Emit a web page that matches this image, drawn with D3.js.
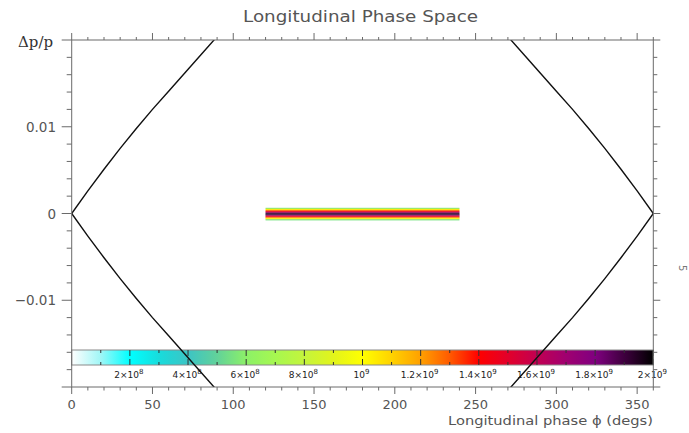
<!DOCTYPE html>
<html>
<head>
<meta charset="utf-8">
<script src="https://cdn.jsdelivr.net/npm/d3@7"></script>
<style>
  body { margin: 0; background: #fff; }
  svg { display: block; }
</style>
</head>
<body>
<svg id="chart" width="689" height="433"></svg>
<script>
// ---- data ----
const phaseTicks = [0, 50, 100, 150, 200, 250, 300, 350];
const dpTicks = [-0.01, 0, 0.01];
const dpTickLabels = ["\u22120.01", "0", "0.01"];

// separatrix branch (phase in degrees, dp/p), mirrored into four arms
const sepPhase = [0, 10, 20, 30, 40, 50, 60, 70, 80, 90];
const sepDp = [0, 0.0026, 0.0051, 0.0075, 0.0098, 0.0120, 0.0141, 0.0162, 0.0183, 0.0204];

// beam: uniform in phase between these limits, banded in dp/p
const beamPhase = [120, 240];
const beamDp = [0.00066, 0.00055, 0.00044, 0.00033, 0.00022, 0.00011, 0,
                -0.00011, -0.00022, -0.00033, -0.00044, -0.00055, -0.00066];
const beamDensity = [5.5e8, 1.0e9, 1.2e9, 1.4e9, 1.6e9, 1.85e9, 2.0e9,
                     1.85e9, 1.6e9, 1.4e9, 1.2e9, 1.0e9, 5.5e8];

// colour table
const cbStops = [0, 1e8, 2e8, 3e8, 4e8, 5e8, 6e8, 7e8, 8e8, 9e8, 1e9,
                 1.1e9, 1.2e9, 1.3e9, 1.4e9, 1.5e9, 1.6e9, 1.7e9, 1.8e9, 1.9e9, 2e9];
const cbColors = ["#ffffff", "#9ff6f6", "#00ffff", "#18dcdc", "#3cc4c4", "#62d29a",
                  "#8cf068", "#a6f850", "#c4f43c", "#e2f41c", "#ffff00",
                  "#ffd200", "#ffa000", "#ff5a00", "#ff0000", "#e2002a",
                  "#c20052", "#a00070", "#800080", "#3e003e", "#000000"];
const cbTicks = [2e8, 4e8, 6e8, 8e8, 1e9, 1.2e9, 1.4e9, 1.6e9, 1.8e9, 2e9];
const cbMinorTicks = [1e8, 3e8, 5e8, 7e8, 9e8, 1.1e9, 1.3e9, 1.5e9, 1.7e9, 1.9e9];
const cbMantissa = ["2\u00d7", "4\u00d7", "6\u00d7", "8\u00d7", "", "1.2\u00d7", "1.4\u00d7", "1.6\u00d7", "1.8\u00d7", "2\u00d7"];
const cbExponent = ["8", "8", "8", "8", "9", "9", "9", "9", "9", "9"];

// ---- layout ----
const svg = d3.select("#chart");
const plotL = 71.7, plotR = 653.3, plotT = 40, plotB = 387;
const axisColor = "#6a6a6a";
const textColor = "#555";

const x = d3.scaleLinear().domain([0, 360]).range([plotL, plotR]);
const y = d3.scaleLinear().domain([-0.02, 0.02]).range([plotB, plotT]);
const color = d3.scaleLinear().domain(cbStops).range(cbColors).interpolate(d3.interpolateRgb);
const cbX = d3.scaleLinear().domain([0, 2e9]).range([plotL, plotR]);
const cbTop = 350, cbBottom = 365;

const defs = svg.append("defs");
defs.append("clipPath").attr("id", "plotClip")
  .append("rect").attr("x", plotL).attr("y", plotT)
  .attr("width", plotR - plotL).attr("height", plotB - plotT);

// beam density bands
const band = Math.abs(y(beamDp[0]) - y(beamDp[1]));
svg.append("g").selectAll("rect").data(beamDp).join("rect")
  .attr("x", x(beamPhase[0]))
  .attr("width", x(beamPhase[1]) - x(beamPhase[0]))
  .attr("y", d => y(d) - band / 2 + 0.5)
  .attr("height", band + 0.2)
  .attr("fill", (d, i) => color(beamDensity[i]));

// colour bar
const grad = defs.append("linearGradient").attr("id", "cbGrad")
  .attr("x1", "0%").attr("x2", "100%").attr("y1", "0%").attr("y2", "0%");
d3.range(0, 101).forEach(p => {
  grad.append("stop").attr("offset", p + "%").attr("stop-color", color(p / 100 * 2e9));
});
svg.append("rect").attr("x", cbX(0)).attr("y", cbTop)
  .attr("width", cbX(2e9) - cbX(0)).attr("height", cbBottom - cbTop)
  .attr("fill", "url(#cbGrad)").attr("stroke", "#8a8a8a").attr("stroke-width", 1);

const cbTickG = svg.append("g").attr("stroke", "#333").attr("stroke-width", 1);
cbTicks.forEach(v => {
  cbTickG.append("line").attr("x1", cbX(v)).attr("x2", cbX(v)).attr("y1", cbTop).attr("y2", cbTop + 6);
  cbTickG.append("line").attr("x1", cbX(v)).attr("x2", cbX(v)).attr("y1", cbBottom - 6).attr("y2", cbBottom);
});
cbMinorTicks.forEach(v => {
  cbTickG.append("line").attr("x1", cbX(v)).attr("x2", cbX(v)).attr("y1", cbTop).attr("y2", cbTop + 3);
  cbTickG.append("line").attr("x1", cbX(v)).attr("x2", cbX(v)).attr("y1", cbBottom - 3).attr("y2", cbBottom);
});
const cbLab = svg.append("g").attr("font-family", "DejaVu Sans, sans-serif")
  .attr("font-size", 9).attr("fill", "#222").attr("text-anchor", "middle");
cbTicks.forEach((v, i) => {
  const t = cbLab.append("text").attr("x", cbX(v) - 1).attr("y", 378);
  t.append("tspan").text(cbMantissa[i] + "10");
  t.append("tspan").attr("dy", -4).attr("font-size", 7).text(cbExponent[i]);
});

// separatrix arms
const line = d3.line().x(d => x(d[0])).y(d => y(d[1]));
const arms = [
  sepPhase.map((p, i) => [p, sepDp[i]]),
  sepPhase.map((p, i) => [p, -sepDp[i]]),
  sepPhase.map((p, i) => [360 - p, sepDp[i]]),
  sepPhase.map((p, i) => [360 - p, -sepDp[i]])
];
svg.append("g").attr("clip-path", "url(#plotClip)").selectAll("path").data(arms).join("path")
  .attr("d", line).attr("fill", "none").attr("stroke", "#111").attr("stroke-width", 1.4);

// axes frame and ticks
const axG = svg.append("g").attr("stroke", axisColor).attr("stroke-width", 1);
axG.append("rect").attr("x", plotL).attr("y", plotT).attr("width", plotR - plotL)
  .attr("height", plotB - plotT).attr("fill", "none");

const phaseMinor = d3.range(0, 361, 10);
phaseMinor.forEach(p => {
  const major = p % 50 === 0;
  axG.append("line").attr("x1", x(p)).attr("x2", x(p)).attr("y1", plotT).attr("y2", plotT - (major ? 7 : 3));
  axG.append("line").attr("x1", x(p)).attr("x2", x(p)).attr("y1", plotB).attr("y2", plotB + (major ? 7 : 3.5));
});
const dpMinor = d3.range(-10, 11).map(k => k * 0.002);
dpMinor.forEach(v => {
  const major = Math.abs(Math.round(v * 1000)) % 10 === 0;
  axG.append("line").attr("x1", plotL).attr("x2", plotL - (major ? 10 : 5)).attr("y1", y(v)).attr("y2", y(v));
  axG.append("line").attr("x1", plotR).attr("x2", plotR + (major ? 7 : 4)).attr("y1", y(v)).attr("y2", y(v));
});

// tick labels
const lab = svg.append("g").attr("font-family", "DejaVu Sans, sans-serif").attr("fill", textColor);
lab.selectAll("text.xt").data(phaseTicks).join("text").attr("class", "xt")
  .attr("x", d => x(d)).attr("y", 409).attr("text-anchor", "middle").attr("font-size", 13)
  .text(d => d);
lab.selectAll("text.yt").data(dpTicks).join("text").attr("class", "yt")
  .attr("x", 56).attr("y", d => y(d) + 5).attr("text-anchor", "end").attr("font-size", 13.5)
  .text((d, i) => dpTickLabels[i]);

// titles
svg.append("text").attr("x", 360.5).attr("y", 22).attr("text-anchor", "middle")
  .attr("font-family", "DejaVu Sans, sans-serif").attr("font-size", 16).attr("fill", textColor)
  .attr("textLength", 235).attr("lengthAdjust", "spacingAndGlyphs")
  .text("Longitudinal Phase Space");
svg.append("text").attr("x", 653).attr("y", 425).attr("text-anchor", "end")
  .attr("font-family", "DejaVu Sans, sans-serif").attr("font-size", 12.5).attr("fill", textColor)
  .attr("textLength", 205).attr("lengthAdjust", "spacingAndGlyphs")
  .text("Longitudinal phase \u03d5 (degs)");
svg.append("text").attr("x", 18).attr("y", 47)
  .attr("font-family", "DejaVu Serif, serif").attr("font-size", 15).attr("fill", "#333")
  .text("\u0394p/p");
svg.append("text").attr("transform", "translate(679,265) rotate(90)")
  .attr("font-family", "DejaVu Sans, sans-serif").attr("font-size", 10).attr("fill", "#777")
  .text("5");
</script>
</body>
</html>
